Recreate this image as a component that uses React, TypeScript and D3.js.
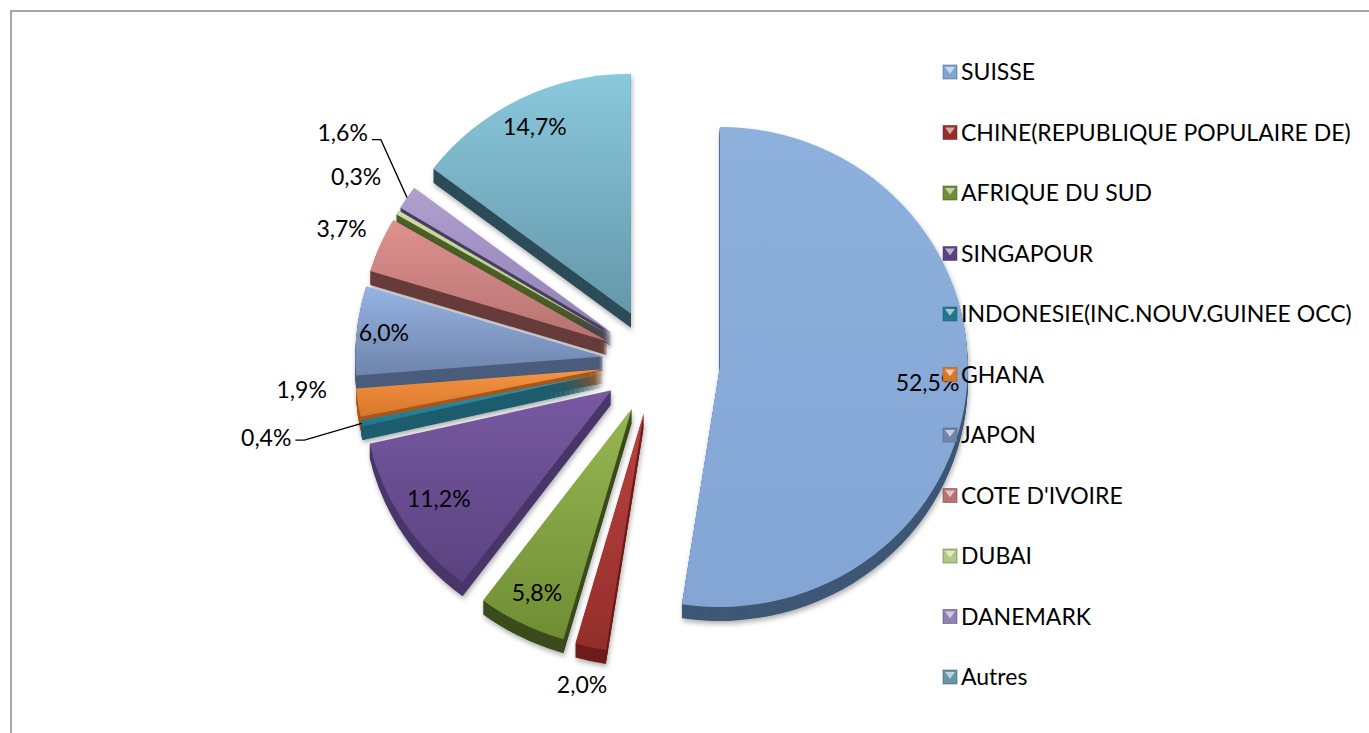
import React from 'react';
import * as d3 from 'd3';

const categories = [
  'SUISSE',
  'CHINE(REPUBLIQUE POPULAIRE DE)',
  'AFRIQUE DU SUD',
  'SINGAPOUR',
  'INDONESIE(INC.NOUV.GUINEE OCC)',
  'GHANA',
  'JAPON',
  "COTE D'IVOIRE",
  'DUBAI',
  'DANEMARK',
  'Autres',
];
const values = [52.5, 2.0, 5.8, 11.2, 0.4, 1.9, 6.0, 3.7, 0.3, 1.6, 14.7];

const topLight = ['#8DB0DD', '#BA433F', '#96B752', '#7759A1', '#3099B3', '#F59443', '#96B3E2', '#DF918F', '#C9DDA2', '#AFA0D0', '#8AC8DC'];
const topDark = ['#83A5D3', '#942E2B', '#6F8E34', '#5A4280', '#23768B', '#D8772A', '#6E85AC', '#B67371', '#B2C889', '#9181B4', '#6597AA'];
const sideColors = ['#3F5876', '#6E1F1C', '#3B4C1E', '#4A3669', '#1D5D6E', '#A9581B', '#4B5C7C', '#683B3B', '#4C5F27', '#4A3E64', '#2E4C5A'];

const explode = [65, 52, 52, 52, 52, 52, 52, 52, 52, 52, 54];
const labelRadius = [0.84, 1.16, 0.86, 0.83, 1.29, 1.22, 0.89, 1.17, 1.22, 1.29, 0.87];
const labelAngleShift = [0, 0, 0, 0, 0, 4, 0, 0, 2, 6, 0];
const labelLeader = [false, false, false, false, true, false, false, false, false, true, false];
const leaderDy = [0, 0, 0, 0, 2, 0, 0, 0, 0, 7, 0];
const drawOrder = [10, 9, 8, 7, 6, 5, 4, 3, 2, 1, 0];

const W = 1369;
const H = 733;
const CX = 655;
const CY = 362;
const RX = 248;
const RY = 240;
const DEPTH = 14;
const FONT_SIZE = 23;
const FONT = 'Lato, "Open Sans", sans-serif';

const fmt = (v: number) => d3.format('.1f')(v).replace('.', ',') + '%';

export default function App() {
  const pie = d3.pie<number>().sort(null).value((d) => d).startAngle(0).endAngle(2 * Math.PI);
  const arcs = pie(values);
  const arcGen = d3.arc<d3.PieArcDatum<number>>().innerRadius(0).outerRadius(RX);
  const sy = RY / RX;

  const geo = arcs.map((a, i) => {
    const mid = (a.startAngle + a.endAngle) / 2;
    const ax = CX + explode[i] * Math.sin(mid);
    const ay = CY - explode[i] * Math.cos(mid);
    return { a, mid, ax, ay, path: arcGen(a) as string };
  });

  const depthSteps = d3.range(DEPTH, 0, -1);

  const legendY = d3.scalePoint<number>().domain(d3.range(categories.length)).range([72, 677]);

  return (
    <svg
      width={W}
      height={H}
      style={{ position: 'absolute', left: 0, top: 0, background: '#fff' }}
      fontFamily={FONT}
    >
      <defs>
        <filter id="shadow" x="-20%" y="-20%" width="140%" height="140%">
          <feDropShadow dx="1" dy="3" stdDeviation="2.5" floodColor="#000" floodOpacity="0.3" />
        </filter>
        {categories.map((_, i) => (
          <linearGradient key={i} id={`g${i}`} x1="0" y1="0" x2="0" y2="1">
            <stop offset="0%" stopColor={topLight[i]} />
            <stop offset="100%" stopColor={topDark[i]} />
          </linearGradient>
        ))}
      </defs>
      <rect x={11} y={11} width={W + 20} height={H + 20} fill="#fff" stroke="#8a8a8a" strokeWidth={1.5} />

      {drawOrder.map((i) => {
        const g = geo[i];
        return (
          <g key={i} filter="url(#shadow)">
            {depthSteps.map((k) => (
              <path
                key={k}
                d={g.path}
                fill={sideColors[i]}
                transform={`translate(${g.ax},${g.ay + k}) scale(1,${sy})`}
              />
            ))}
            <path d={g.path} fill={`url(#g${i})`} transform={`translate(${g.ax},${g.ay}) scale(1,${sy})`} />
          </g>
        );
      })}

      {geo.map((g, i) => {
        const ang = g.mid + (labelAngleShift[i] * Math.PI) / 180;
        const lx = g.ax + RX * labelRadius[i] * Math.sin(ang);
        const ly = g.ay - RY * labelRadius[i] * Math.cos(ang);
        if (labelLeader[i]) {
          const ox = g.ax + RX * Math.sin(g.mid);
          const oy = g.ay - RY * Math.cos(g.mid);
          const pts: [number, number][] = [
            [ox, oy],
            [lx + 13, ly + leaderDy[i]],
            [lx + 4, ly + leaderDy[i]],
          ];
          return (
            <g key={i}>
              <path d={d3.line()(pts) as string} fill="none" stroke="#000" strokeWidth={1.3} />
              <text x={lx} y={ly} dy="0.35em" textAnchor="end" fontSize={FONT_SIZE} fill="#000">
                {fmt(values[i])}
              </text>
            </g>
          );
        }
        return (
          <text key={i} x={lx} y={ly} dy="0.35em" textAnchor="middle" fontSize={FONT_SIZE} fill="#000">
            {fmt(values[i])}
          </text>
        );
      })}

      {categories.map((c, i) => {
        const y = legendY(i) as number;
        const x0 = 943;
        const s = 14;
        const top = y - s / 2;
        return (
          <g key={c}>
            <rect x={x0} y={top} width={s} height={s} fill={topDark[i]} />
            <rect x={x0} y={top} width={s} height={s} fill="none" stroke={sideColors[i]} strokeOpacity={0.5} strokeWidth={1} />
            <polygon
              points={`${x0 + 2},${top + 2} ${x0 + s - 2},${top + 2} ${x0 + s / 2},${top + s * 0.62}`}
              fill="#fff"
              fillOpacity={0.6}
            />
            <text x={961} y={y} dy="0.36em" fontSize={FONT_SIZE} fill="#000">
              {c}
            </text>
          </g>
        );
      })}
    </svg>
  );
}
